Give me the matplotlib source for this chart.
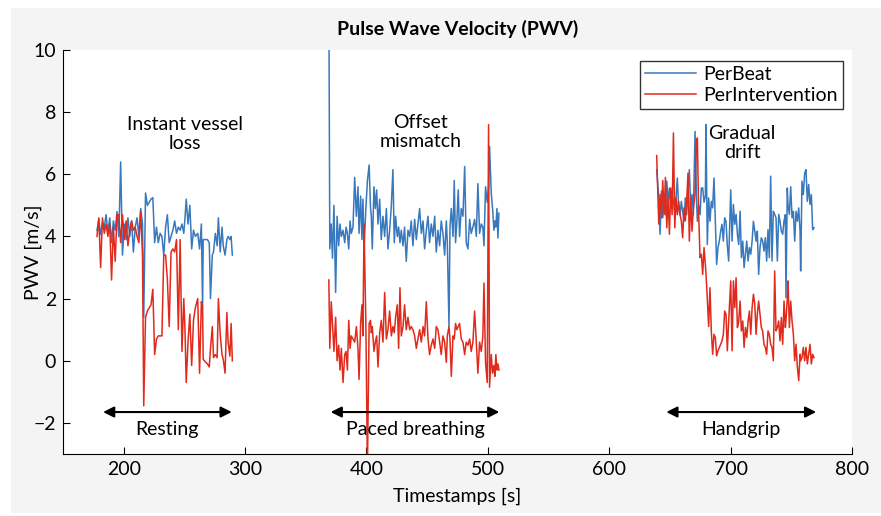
import matplotlib
matplotlib.use("Agg")
import matplotlib.pyplot as plt
from matplotlib.patches import Rectangle

plt.rcParams['font.family'] = ['Lato', 'DejaVu Sans']
plt.rcParams['axes.unicode_minus'] = True

# ---- Resting ----
t_rest = [178, 179.5, 181, 182.5, 184, 185.5, 187, 188.5, 190, 191.5, 193, 194.5, 196, 197.5, 199,
          200.5, 202, 203.5, 205, 206.5, 208, 209.5, 211, 212.5, 214, 215.5, 216.5, 218, 219.5, 221,
          222.5, 224, 225.5, 227, 228.5, 230, 231.5, 233, 234.5, 236, 237.5, 239, 240.5, 242, 243.5,
          245, 246.5, 248, 249.5, 250.5, 251.5, 253, 254.5, 256, 257.5, 259, 261, 262.5, 264, 265,
          265.5, 267.5, 269, 270.5, 271.5, 273, 274, 275.5, 277, 278, 279.5, 281, 282, 283.5, 285,
          286, 287.5, 288.5, 289.5]
beat_rest = [4.2, 4.55, 4.06, 4.44, 4.3, 4.7, 4.1, 4.6, 3.8, 4.5, 4.2, 4.8, 4.0, 6.4, 3.4,
             4.4, 3.9, 4.6, 4.0, 4.5, 3.5, 4.3, 4.6, 4.0, 4.9, 4.4, 1.4, 5.4, 5.0, 5.1,
             5.2, 5.25, 3.8, 4.3, 3.8, 4.1, 4.0, 3.4, 4.3, 4.7, 3.8, 4.0, 4.2, 4.5, 4.1,
             4.3, 4.2, 4.4, 4.1, 4.6, 5.2, 4.4, 5.0, 3.6, 4.2, 4.0, 4.1, 3.6, 4.4, 1.7,
             3.9, 3.9, 3.9, 3.8, 2.0, 3.4, 3.5, 4.1, 3.7, 4.6, 3.5, 4.3, 3.7, 3.4, 3.9,
             4.0, 3.9, 4.0, 3.4]
inter_rest = [4.0, 4.6, 3.0, 4.6, 4.1, 4.4, 4.0, 4.4, 2.6, 4.3, 3.2, 4.7, 4.7, 3.8, 4.7,
              3.9, 4.5, 3.7, 4.2, 4.5, 4.2, 4.3, 4.0, 3.8, 4.8, 3.4, -1.45, 1.4, 1.6, 1.7,
              1.8, 2.3, 0.2, 0.7, 0.8, 0.8, 0.8, 3.4, 3.4, 2.6, 1.1, 3.5, 3.6, 3.5, 3.9,
              1.0, 3.9, 0.3, 2.0, 1.0, -0.7, 0.6, 1.5, -0.15, 1.3, 1.7, 2.0, -0.4, 1.9, 1.7,
              0.05, -0.05, -0.1, -0.2, 0.4, 1.1, 0.1, 0.2, 0.1, 2.0, 0.85, 0.2, 0.05, -0.4, 1.55,
              0.6, 0.15, 1.2, 0.0]

# ---- Paced breathing ----
t_paced = [369.0, 369.8, 371.0, 372.0, 373.2, 374.6, 375.8, 377.1, 378.2, 379.3, 380.7, 382.1,
           383.2, 384.3, 385.4, 386.5, 387.5, 388.9, 390.3, 391.7, 393.0, 393.9, 395.2, 396.3,
           397.1, 398.0, 399.5, 400.8, 402.2, 403.3, 404.0, 404.8, 406.2, 407.3, 408.4, 409.5,
           410.9, 412.2, 413.6, 415.0, 416.4, 417.7, 419.1, 420.5, 421.8, 422.9, 424.0, 425.4,
           426.5, 427.6, 428.7, 430.1, 431.4, 432.8, 434.2, 435.6, 436.9, 438.3, 439.7, 441.1,
           442.4, 443.8, 445.2, 446.6, 447.9, 449.3, 450.7, 452.0, 453.4, 454.8, 456.2, 457.5,
           458.9, 460.3, 461.6, 463.0, 464.4, 465.8, 466.6, 468.0, 468.8, 469.9, 471.3, 472.3,
           473.4, 474.5, 475.6, 476.7, 478.1, 479.5, 480.9, 482.2, 483.6, 485.0, 486.3, 487.7,
           489.1, 490.5, 491.8, 493.2, 494.6, 495.9, 496.8, 498.1, 499.5, 500.6, 501.4, 502.8,
           503.9, 505.0, 505.8, 506.6, 507.5, 508.3, 509.1]
beat_paced = [12.0, 3.6, 4.4, 3.3, 5.0, 2.2, 4.65, 3.7, 4.4, 4.0, 4.2, 3.8,
              4.3, 4.1, 3.6, 4.5, 4.1, 4.3, 5.9, 4.65, 5.6, 4.1, 5.3, 3.9,
              5.2, 3.6, 4.9, 5.8, 6.3, 4.95, 4.65, 3.6, 5.6, 4.9, 5.5, 4.4,
              5.2, 3.9, 4.65, 4.0, 4.9, 3.6, 4.2, 5.0, 6.15, 3.8, 4.65, 4.0,
              4.3, 3.8, 4.2, 3.7, 4.3, 3.2, 4.2, 4.0, 4.5, 3.7, 4.55, 3.9,
              4.4, 4.9, 4.1, 4.5, 3.6, 4.2, 4.65, 3.8, 4.4, 4.0, 4.65, 3.5,
              4.2, 3.7, 4.5, 4.1, 3.4, 4.5, 3.8, 1.1, 4.3, 4.9, 4.0, 5.8,
              3.8, 4.5, 5.5, 4.0, 4.9, 4.65, 6.25, 3.8, 3.6, 4.55, 4.1, 4.3,
              4.55, 4.0, 5.7, 4.1, 4.4, 4.3, 3.7, 5.6, 5.1, 5.6, 6.9, 5.4,
              4.9, 4.2, 4.5, 4.3, 4.9, 3.95, 4.75]
inter_paced = [2.6, 0.4, 1.9, 1.2, 0.3, 1.4, 0.0, 0.5, -0.3, 0.4, -0.7, 0.2,
               0.3, -0.3, 1.3, 0.4, 0.8, 0.7, 0.6, 1.1, 0.4, -0.6, 1.2, 1.8,
               0.8, 4.4, 1.2, -3.5, 1.2, 1.3, 0.9, 1.1, 0.3, 0.6, 0.8, -0.2,
               0.9, 1.3, 0.6, 2.2, 0.7, 1.0, 1.6, 0.8, 1.1, 0.9, 1.4, 1.8,
               0.4, 2.35, 0.8, 1.1, 1.8, 1.0, 1.4, 1.0, 1.1, 1.0, 0.8, 0.4,
               0.7, 1.0, 0.6, 1.1, 0.8, 1.9, 0.7, 0.2, 0.5, 0.7, 0.4, 1.1,
               1.0, 0.6, 0.2, 0.8, 0.6, -0.05, 0.8, 1.1, 0.7, -0.5, 0.8, 0.7,
               1.2, 1.0, 1.1, 1.2, 0.7, 0.6, 0.2, 0.6, 0.5, 0.7, 0.3, 0.6,
               1.6, 0.6, -0.4, 0.6, 0.3, 0.8, 2.5, -0.05, -0.7, 7.6, -0.85, 0.2,
               -0.4, -0.15, -0.5, 0.2, -0.3, -0.1, -0.3]

# ---- Handgrip ----
t_grip = [639.1, 640.8, 641.9, 643.0, 644.1, 645.2, 646.3, 647.4, 648.5, 649.6, 650.7, 651.8,
          652.9, 654.0, 655.0, 656.1, 657.2, 658.3, 659.4, 660.5, 661.6, 662.7, 663.8, 664.9,
          666.0, 667.1, 668.2, 669.3, 670.7, 671.8, 672.6, 673.7, 674.8, 675.9, 677.0, 678.1,
          679.2, 679.7, 680.8, 681.9, 683.0, 684.1, 685.2, 686.3, 687.4, 688.5, 689.6, 690.7,
          691.8, 692.9, 694.0, 695.1, 696.2, 697.3, 698.4, 700.1, 701.2, 702.3, 703.4, 704.5,
          705.6, 706.7, 707.8, 708.9, 710.0, 711.1, 712.2, 713.3, 714.4, 715.5, 716.6, 717.7,
          718.8, 719.9, 721.0, 722.0, 723.1, 724.2, 725.3, 726.4, 727.5, 728.6, 729.7, 730.8,
          731.9, 733.0, 734.1, 735.2, 736.3, 737.4, 738.5, 739.6, 740.7, 741.8, 742.9, 744.0,
          745.1, 745.6, 746.7, 747.3, 748.4, 749.5, 750.6, 751.7, 752.8, 753.9, 755.0, 756.1,
          757.2, 757.7, 758.8, 759.9, 761.0, 762.1, 763.2, 764.3, 765.4, 766.5, 767.6, 768.7]
beat_grip = [6.15, 5.24, 4.07, 5.46, 4.6, 5.35, 4.7, 5.78, 5.1, 5.56, 4.92, 5.35,
             5.13, 4.7, 5.24, 5.88, 4.92, 4.7, 5.13, 4.8, 4.49, 5.24, 4.7, 5.46,
             6.15, 4.92, 5.35, 4.7, 7.38, 5.35, 4.49, 5.0, 4.7, 5.56, 5.56, 5.1,
             5.3, 7.6, 3.74, 5.24, 4.49, 5.13, 4.92, 5.88, 4.49, 3.1, 3.64, 3.85,
             4.17, 4.39, 3.85, 4.6, 4.49, 3.69, 3.21, 5.5, 3.85, 5.03, 4.39, 4.71,
             4.07, 3.74, 4.81, 3.32, 3.85, 3.0, 3.43, 3.85, 3.21, 3.64, 3.43, 3.85,
             4.49, 4.17, 3.85, 4.17, 2.78, 3.64, 3.96, 3.85, 3.53, 3.96, 3.21, 4.22,
             3.32, 5.94, 3.21, 4.81, 4.71, 4.6, 3.21, 4.71, 4.49, 4.17, 4.07, 4.5,
             4.7, 2.03, 5.56, 5.0, 4.71, 5.6, 4.6, 4.81, 3.85, 4.81, 4.49, 4.92,
             4.17, 2.89, 5.78, 5.35, 6.04, 6.15, 5.13, 5.67, 5.03, 5.35, 4.22, 4.28]
inter_grip = [6.6, 4.4, 5.35, 4.6, 5.8, 4.7, 5.9, 4.28, 5.24, 4.07, 5.56, 4.7,
              7.33, 4.28, 5.24, 4.7, 5.13, 4.7, 4.5, 3.96, 4.92, 4.5, 5.13, 6.04,
              3.85, 5.24, 4.17, 4.92, 5.35, 7.0, 7.17, 4.7, 3.32, 3.43, 2.78, 3.64,
              3.1, 2.8, 2.0, 1.1, 2.35, 0.96, 0.21, 0.85, 0.75, 0.16, 0.32, 0.43,
              0.53, 0.64, 0.85, 1.6, 1.5, 0.32, 1.28, 2.57, 0.32, 2.57, 1.71, 2.67,
              1.07, 1.28, 1.92, 0.96, 1.28, 0.43, 1.07, 0.75, 1.28, 1.6, 0.85, 1.71,
              2.14, 1.82, 0.85, 1.5, 1.92, 1.5, 1.07, 0.96, 0.53, 0.43, 0.21, 0.96,
              0.85, 0.53, 0.43, 0.0, 2.89, 0.96, 1.07, 1.28, 0.64, 1.39, 0.53, 1.92,
              1.07, 1.3, 2.0, 2.57, 1.07, 1.92, 1.28, 0.85, 0.0, 0.53, -0.21, -0.64,
              0.21, 0.0, 0.1, 0.43, 0.0, 0.43, -0.1, 0.21, 0.53, -0.1, 0.21, 0.1]

phases = ["Resting", "Paced breathing", "Handgrip"]
phase_spans = [(183, 289), (370.5, 509.5), (647, 770.5)]
notes = ["Instant vessel\nloss", "Offset\nmismatch", "Gradual\ndrift"]
note_pos = [(250.5, 7.3), (444.5, 7.35), (709.5, 7.0)]

blue = '#3878bd'
red = '#e02a1c'
fs = 14

fig = plt.figure(figsize=(8.81, 5.16), dpi=100)
fig.patch.set_facecolor('white')
fig.patches.append(Rectangle((11 / 881, 3 / 516), 1 - 11 / 881, 505 / 516,
                             transform=fig.transFigure, facecolor='#f4f4f4',
                             edgecolor='none', zorder=-10))
ax = fig.add_axes([63 / 881, 62 / 516, 789 / 881, 404 / 516])
ax.set_facecolor('white')

segments = [(t_rest, beat_rest, inter_rest), (t_paced, beat_paced, inter_paced),
            (t_grip, beat_grip, inter_grip)]
for i, (t, b, r) in enumerate(segments):
    ax.plot(t, b, color=blue, lw=1.1, label='PerBeat' if i == 0 else None)
    ax.plot(t, r, color=red, lw=1.1, label='PerIntervention' if i == 0 else None)

for (x0, x1), name in zip(phase_spans, phases):
    ax.annotate('', xy=(x1, -1.65), xytext=(x0, -1.65),
                arrowprops=dict(arrowstyle='<|-|>', color='black', lw=1.5,
                                mutation_scale=16, shrinkA=0, shrinkB=0))
    ax.text((x0 + x1) / 2, -2.2, name, ha='center', va='center', fontsize=fs)

for txt, (x, y) in zip(notes, note_pos):
    ax.text(x, y, txt, ha='center', va='center', fontsize=fs, linespacing=1.15)

ax.set_xlim(150, 800)
ax.set_ylim(-3, 10)
ax.set_xticks([200, 300, 400, 500, 600, 700, 800])
ax.set_yticks([-2, 0, 2, 4, 6, 8, 10])
ax.tick_params(direction='in', length=5, labelsize=fs, width=0.8, pad=5)
for s in ['top', 'right']:
    ax.spines[s].set_visible(False)
ax.set_xlabel('Timestamps [s]', fontsize=fs, labelpad=7)
ax.set_ylabel('PWV [m/s]', fontsize=fs, labelpad=-6)
ax.set_title('Pulse Wave Velocity (PWV)', fontsize=fs, fontweight='bold', pad=11)

leg = ax.legend(loc='upper right', bbox_to_anchor=(0.9886, 0.973), fontsize=fs,
                frameon=True, fancybox=False, handlelength=2.6, borderpad=0.25,
                labelspacing=0.2, handletextpad=0.4, borderaxespad=0)
leg.get_frame().set_edgecolor('black')
leg.get_frame().set_linewidth(1.0)

fig.savefig('out.png', dpi=100, facecolor=fig.get_facecolor())
